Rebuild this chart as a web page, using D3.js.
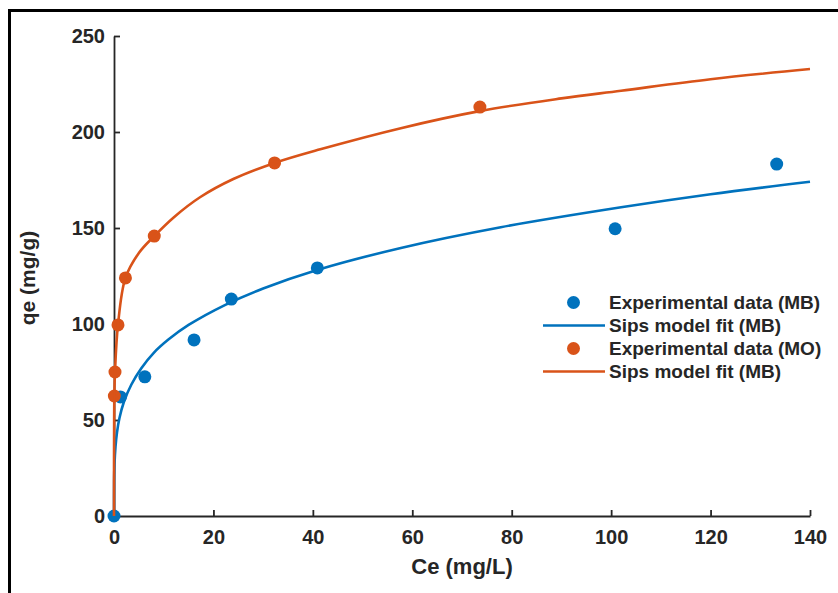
<!DOCTYPE html>
<html>
<head>
<meta charset="utf-8">
<script src="https://cdn.jsdelivr.net/npm/d3@7"></script>
<style>
  html, body { margin: 0; padding: 0; background: #fff; }
  svg { display: block; }
  text { font-family: "Liberation Sans", Arial, Helvetica, sans-serif; font-weight: bold; fill: #262626; }
</style>
</head>
<body>
<svg id="chart" width="838" height="593"></svg>
<script>
// ---- data ----
const mbCe = [0, 1.3, 6.2, 16.1, 23.6, 40.9, 100.8, 133.3];
const mbQe = [0, 62, 72.5, 91.7, 113, 129.2, 149.6, 183.3];
const moCe = [0.07, 0.2, 0.8, 2.3, 8.1, 32.3, 73.6];
const moQe = [62.5, 75, 99.5, 124, 145.8, 183.9, 213];

// Sips model fit curves
const mbFitCe = [0, 0.02, 0.1, 0.3, 0.6, 1.1, 2, 3.5, 5.5, 8, 11, 15, 22.4, 30, 40.7, 57.7, 77.8, 102, 120, 140];
const mbFitQe = [0, 18, 27, 36, 43.5, 51, 59.5, 68.5, 77, 85, 92, 99.5, 110, 118.5, 128, 139.6, 150.4, 160.8, 167.6, 174.1];
const moFitCe = [0, 0.005, 0.03, 0.07, 0.2, 0.8, 2.3, 5, 8.1, 12, 17.3, 24, 32.3, 41.5, 57.7, 73.8, 90, 102, 120, 140];
const moFitQe = [0, 30, 50, 62.5, 75, 99.5, 124, 137, 145.8, 155.5, 166, 175.5, 183.9, 191, 202, 211, 217.5, 221.5, 227.5, 232.8];

const xTicks = [0, 20, 40, 60, 80, 100, 120, 140];
const yTicks = [0, 50, 100, 150, 200, 250];

const legendLabels = ["Experimental data (MB)", "Sips model fit (MB)", "Experimental data (MO)", "Sips model fit (MB)"];

const blue = "#0072BD", orange = "#D95319", axisCol = "#262626";

const svg = d3.select("#chart");

// frame
svg.append("line").attr("x1", 9.5).attr("y1", 10.5).attr("x2", 9.5).attr("y2", 593)
  .attr("stroke", "#000").attr("stroke-width", 3);
svg.append("line").attr("x1", 8).attr("y1", 10.5).attr("x2", 838).attr("y2", 10.5)
  .attr("stroke", "#000").attr("stroke-width", 3);

const x = d3.scaleLinear().domain([0, 140]).range([114, 810]);
const y = d3.scaleLinear().domain([0, 250]).range([516, 36]);

// axes
const xAxis = svg.append("g").attr("transform", `translate(0,${y(0)})`)
  .call(d3.axisBottom(x).tickValues(xTicks).tickFormat(d3.format("d")).tickSizeInner(-6).tickSizeOuter(0).tickPadding(14));
const yAxis = svg.append("g").attr("transform", `translate(${x(0)},0)`)
  .call(d3.axisLeft(y).tickValues(yTicks).tickFormat(d3.format("d")).tickSizeInner(-6).tickSizeOuter(0).tickPadding(9));
[xAxis, yAxis].forEach(g => {
  g.select(".domain").attr("stroke", axisCol).attr("stroke-width", 1.8);
  g.selectAll(".tick line").attr("stroke", axisCol).attr("stroke-width", 1.8);
  g.selectAll(".tick text").attr("font-size", 20).attr("font-family", null).attr("fill", axisCol);
});

// axis labels
svg.append("text").attr("x", x(70)).attr("y", 574).attr("text-anchor", "middle")
  .attr("font-size", 22).text("Ce (mg/L)");
svg.append("text").attr("transform", `translate(35,${y(125) + 2}) rotate(-90)`).attr("text-anchor", "middle")
  .attr("font-size", 21).text("qe (mg/g)");

const line = d3.line().x(d => x(d[0])).y(d => y(d[1])).curve(d3.curveCatmullRom.alpha(0.5));

// MB
svg.append("g").selectAll("circle").data(d3.zip(mbCe, mbQe)).join("circle")
  .attr("cx", d => x(d[0])).attr("cy", d => y(d[1])).attr("r", 6.5).attr("fill", blue);
svg.append("path").datum(d3.zip(mbFitCe, mbFitQe)).attr("d", line)
  .attr("fill", "none").attr("stroke", blue).attr("stroke-width", 2.6);
// MO
svg.append("g").selectAll("circle").data(d3.zip(moCe, moQe)).join("circle")
  .attr("cx", d => x(d[0])).attr("cy", d => y(d[1])).attr("r", 6.5).attr("fill", orange);
svg.append("path").datum(d3.zip(moFitCe, moFitQe)).attr("d", line)
  .attr("fill", "none").attr("stroke", orange).attr("stroke-width", 2.6);

// legend
const legTypes = ["dot", "line", "dot", "line"];
const legCols = [blue, blue, orange, orange];
const leg = svg.append("g");
legendLabels.forEach((lab, i) => {
  const cy = 302.5 + i * 23;
  if (legTypes[i] === "dot") {
    leg.append("circle").attr("cx", 573.5).attr("cy", cy).attr("r", 6.5).attr("fill", legCols[i]);
  } else {
    leg.append("line").attr("x1", 543).attr("x2", 605).attr("y1", cy).attr("y2", cy)
      .attr("stroke", legCols[i]).attr("stroke-width", 2.6);
  }
  leg.append("text").attr("x", 609).attr("y", cy).attr("dy", "0.35em")
    .attr("font-size", 19).text(lab);
});
</script>
</body>
</html>
